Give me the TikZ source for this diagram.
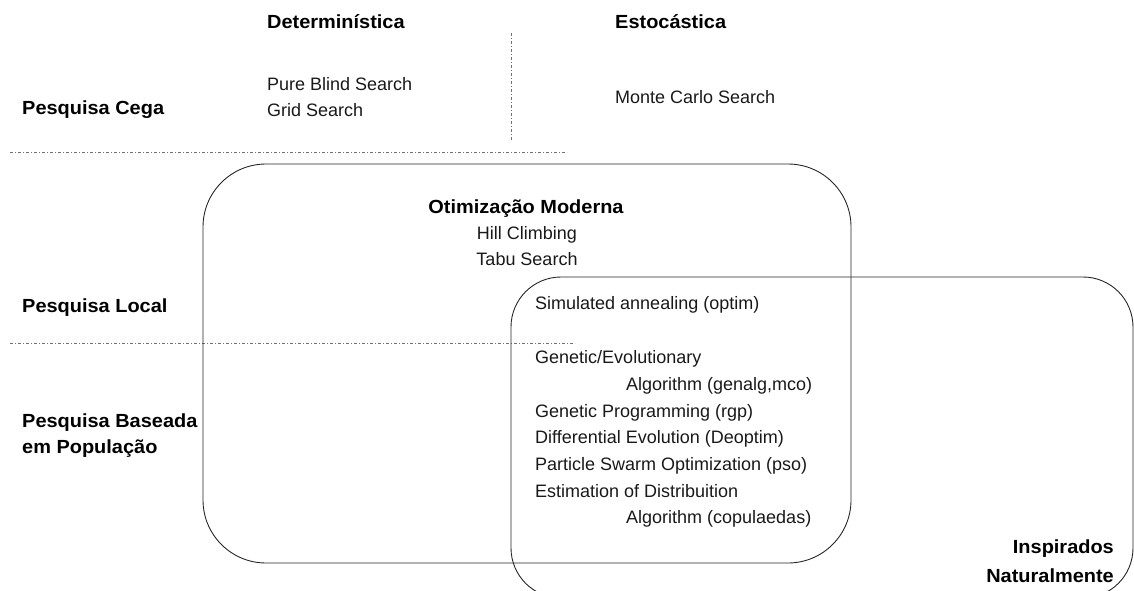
\documentclass[tikz,border=0pt]{standalone}
\usepackage{fontspec}
\setmainfont{Liberation Sans}
\newfontfamily\headfont{Liberation Sans}[FakeStretch=1.05]
\begin{document}
\begin{tikzpicture}[x=1pt,y=-1pt,
  item/.style={font=\fontsize{18}{22}\selectfont, inner sep=0pt, anchor=base west, text=black!90},
  head/.style={font=\headfont\fontsize{19}{22}\selectfont\bfseries, inner sep=0pt, anchor=base west},
  divider/.style={draw=black!55, line width=0.7pt, dash pattern=on 3pt off 2pt on 1pt off 2pt},
  region/.style={draw=black!85, line width=0.9pt}]
\useasboundingbox (0,0) rectangle (1134,591);
\clip (0,0) rectangle (1134,591);

% grid separators
\draw[divider] (10,152) -- (567,152);
\draw[divider] (10,343) -- (575,343);
\draw[divider] (511,33) -- (511,140);

% the two overlapping families
\draw[region, rounded corners=63pt] (203,164) rectangle (851,563);
\draw[region, rounded corners=50pt] (511,277) rectangle (1133,598);

% column headings
\node[head] (det) at (267,29) {Determinística};
\node[head] (est) at (615,29) {Estocástica};

% row headings
\node[head] (cega) at (22,114) {Pesquisa Cega};
\node[head] (local) at (22,312) {Pesquisa Local};
\node[head] (pop1) at (22,427) {Pesquisa Baseada};
\node[head] (pop2) at (22,453) {em População};

% blind search
\node[item] (pbs) at (267,91) {Pure Blind Search};
\node[item] (grid) at (267,117) {Grid Search};
\node[item] (mc) at (615,104) {Monte Carlo Search};

% modern optimization
\node[head, anchor=base] (om) at (526,213) {Otimização Moderna};
\node[item, anchor=base] (hc) at (527,239) {Hill Climbing};
\node[item, anchor=base] (tabu) at (527,265) {Tabu Search};

% nature inspired
\node[item] (sa) at (535,309) {Simulated annealing (optim)};
\node[item] (ga1) at (535,363) {Genetic/Evolutionary};
\node[item] (ga2) at (626,390) {Algorithm (genalg,mco)};
\node[item] (gp) at (535,417) {Genetic Programming (rgp)};
\node[item] (de) at (535,443) {Differential Evolution (Deoptim)};
\node[item] (pso) at (535,470) {Particle Swarm Optimization (pso)};
\node[item] (eda1) at (535,497) {Estimation of Distribuition};
\node[item] (eda2) at (626,523) {Algorithm (copulaedas)};

\node[head, anchor=base east] (nat1) at (1114,553) {Inspirados};
\node[head, anchor=base east] (nat2) at (1114,582) {Naturalmente};
\end{tikzpicture}
\end{document}
